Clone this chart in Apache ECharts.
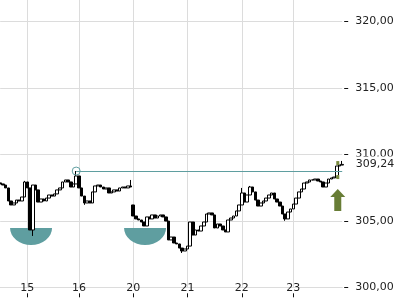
<!DOCTYPE html>
<html><head><meta charset="utf-8">
<script src="https://cdn.jsdelivr.net/npm/echarts@6/dist/echarts.min.js"></script>
<style>html,body{margin:0;padding:0;background:#fff}#c{width:400px;height:300px}</style>
</head><body><div id="c"></div>
<script>
// closing prices of each intraday bar
const closes = [
307.77,307.69,307.47,306.49,306.19,306.34,306.56,306.49,306.79,307.92,
307.47,304.31,307.69,307.32,306.41,306.64,306.49,306.71,306.94,306.86,
307.02,307.32,307.47,307.92,308.07,307.92,307.54,307.77,308.37,307.47,
306.86,306.34,306.49,306.34,307.17,307.62,307.69,307.54,307.39,307.47,
307.09,307.17,307.32,307.24,307.47,307.54,307.47,307.62,307.54,305.36,
305.14,305.06,304.91,304.61,305.29,305.14,305.44,305.21,305.36,305.44,
305.29,304.98,303.56,303.78,303.33,303.26,302.95,302.73,302.88,303.10,
304.91,303.93,304.31,304.23,304.61,304.91,305.51,305.59,305.44,304.46,
304.76,304.61,304.31,304.16,305.06,305.21,305.36,305.74,306.19,307.09,
306.41,306.94,307.54,307.17,306.56,306.11,306.34,306.49,306.71,306.94,
307.09,306.64,306.41,306.11,305.51,305.14,305.66,305.89,306.26,306.71,
307.17,307.39,307.84,307.92,308.07,308.07,308.14,307.99,307.92,307.54,
307.84,308.14,308.22,308.29,309.12,309.19,309.24
];
// opens that differ from the previous close (session opens)
const openOverrides = {0: 307.85, 49: 306.19};
const highOverrides = {9: 308.0, 28: 308.74, 48: 308.07, 89: 307.47, 92: 307.62, 126: 309.5};
const lowOverrides = {12: 303.86, 67: 302.58, 31: 306.2, 105: 305.0};
const dayTickIndex = [10, 29, 49, 69, 89, 108];
const dayTickLabels = ['15', '16', '20', '21', '22', '23'];
const yTicks = [300, 305, 310, 315, 320];
const resistance = 308.74;
const resistanceStart = 28;
const lastPrice = 309.24;
const bowls = [[11, 303.82], [53, 303.82]];
const arrowPoint = [124, 306.56];
const signalDots = [[124, 309.34], [124, 308.29]];

const categories = closes.map((_, i) => String(i));
const ohlc = closes.map((c, i) => {
  const o = openOverrides[i] !== undefined ? openOverrides[i] : closes[i - 1];
  let lo = Math.min(o, c), hi = Math.max(o, c);
  if (lowOverrides[i] !== undefined) lo = Math.min(lo, lowOverrides[i]);
  if (highOverrides[i] !== undefined) hi = Math.max(hi, highOverrides[i]);
  return [o, c, lo, hi];
});
const labelMap = {};
dayTickIndex.forEach((idx, k) => labelMap[idx] = dayTickLabels[k]);
const isDay = (i) => labelMap[i] !== undefined;
const fmt = v => v.toFixed(2).replace('.', ',');
const FONT = 'DejaVu Sans';

const chart = echarts.init(document.getElementById('c'), null, {renderer: 'canvas'});
chart.setOption({
  animation: false,
  grid: {left: 0.2, right: 57.8, top: 0, bottom: 12.7},
  xAxis: [{
    type: 'category', data: categories, boundaryGap: false,
    axisLine: {show: true, lineStyle: {color: '#dcdcdc'}},
    axisTick: {show: false},
    axisLabel: {interval: (i) => isDay(i), formatter: (v, i) => labelMap[i] || '',
      verticalAlign: 'middle', margin: 1, color: '#222', fontFamily: FONT, fontSize: 11},
    splitLine: {show: true, interval: (i) => isDay(i), lineStyle: {color: '#dcdcdc', width: 1}}
  }, {
    type: 'category', data: categories, boundaryGap: false, position: 'bottom', offset: 6,
    axisLine: {show: false},
    axisTick: {show: true, interval: (i) => isDay(i), length: 4, lineStyle: {color: '#111'}},
    axisLabel: {show: false}, splitLine: {show: false}
  }],
  yAxis: {
    type: 'value', position: 'right', min: 300, max: 321.6, interval: 5, offset: 2,
    axisLine: {show: false},
    axisTick: {show: true, length: 4, lineStyle: {color: '#111'}, customValues: yTicks},
    axisLabel: {margin: 11, color: '#222', fontFamily: FONT, fontSize: 11, customValues: yTicks,
      formatter: v => (Math.abs(v % 5) < 1e-6 ? fmt(v) : '')},
    splitLine: {show: true, lineStyle: {color: '#dcdcdc', width: 1}}
  },
  series: [{
    type: 'scatter', z: 1, silent: true,
    symbol: 'path://M0,0 L42,0 A21,17 0 0 1 0,0 Z', symbolSize: [42, 17], symbolOffset: [1, 0],
    itemStyle: {color: '#5f9ea0', opacity: 1},
    data: bowls
  }, {
    type: 'candlestick', z: 3, data: ohlc, barWidth: 3, clip: false,
    itemStyle: {color: '#ffffff', color0: '#000000', borderColor: '#000000', borderColor0: '#000000',
      borderColorDoji: '#000000', borderWidth: 1},
    emphasis: {disabled: true},
    markLine: {
      silent: true, symbol: ['none', 'none'], animation: false,
      lineStyle: {color: '#5f9ea0', width: 1, type: 'solid'},
      label: {show: false},
      data: [[{coord: [resistanceStart, resistance]}, {coord: [closes.length - 1, resistance]}]]
    },
    markPoint: {
      silent: true, animation: false,
      data: [{
        coord: [resistanceStart, resistance], symbol: 'circle', symbolSize: 8,
        itemStyle: {color: 'rgba(0,0,0,0)', borderColor: '#5f9ea0', borderWidth: 1},
        label: {show: false}
      }, {
        coord: [closes.length - 1, lastPrice], symbol: 'rect', symbolSize: 1,
        itemStyle: {color: 'rgba(0,0,0,0)'},
        label: {show: true, position: 'right', distance: 13, formatter: fmt(lastPrice),
          color: '#222', fontFamily: FONT, fontSize: 11, backgroundColor: '#fff',
          padding: [2, 0, 2, 0], lineHeight: 12}
      }]
    }
  }, {
    type: 'scatter', z: 4, silent: true,
    symbol: 'path://M7.5,0 L15,8 L11,8 L11,22 L4,22 L4,8 L0,8 Z', symbolSize: [15, 22],
    symbolOffset: [1, 0],
    itemStyle: {color: '#687d36', opacity: 1},
    data: [arrowPoint]
  }, {
    type: 'scatter', z: 4, silent: true, symbol: 'rect', symbolSize: [3, 4], symbolOffset: [1, 0],
    itemStyle: {color: '#7a8a40', opacity: 1},
    data: signalDots
  }]
});
</script>
</body></html>
